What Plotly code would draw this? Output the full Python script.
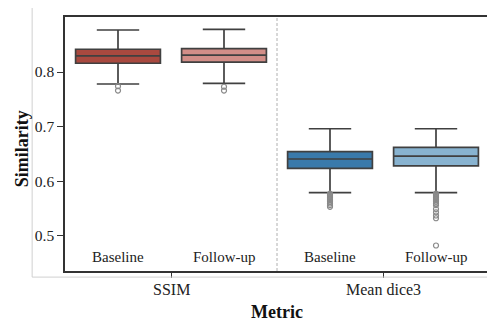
import plotly.graph_objects as go

metrics = ["SSIM", "Mean dice3"]
groups = ["Baseline", "Follow-up"]
colors = {("SSIM", "Baseline"): "#a9493f", ("SSIM", "Follow-up"): "#d28e88",
          ("Mean dice3", "Baseline"): "#3a7aab", ("Mean dice3", "Follow-up"): "#88b3d0"}

# box statistics: lower whisker, q1, median, q3, upper whisker
lower = {"SSIM": [0.778, 0.779], "Mean dice3": [0.579, 0.579]}
q1 = {"SSIM": [0.816, 0.818], "Mean dice3": [0.6235, 0.628]}
median = {"SSIM": [0.8294, 0.831], "Mean dice3": [0.6406, 0.646]}
q3 = {"SSIM": [0.8417, 0.843], "Mean dice3": [0.654, 0.662]}
upper = {"SSIM": [0.877, 0.878], "Mean dice3": [0.696, 0.696]}
outliers = {
    ("SSIM", "Baseline"): [0.774, 0.766],
    ("SSIM", "Follow-up"): [0.773, 0.766],
    ("Mean dice3", "Baseline"): [0.577, 0.575, 0.573, 0.571, 0.569, 0.567, 0.565, 0.562,
                                 0.559, 0.556, 0.553],
    ("Mean dice3", "Follow-up"): [0.577, 0.575, 0.573, 0.571, 0.569, 0.567, 0.565, 0.562,
                                  0.559, 0.556, 0.549, 0.543, 0.537, 0.532, 0.482],
}
label_y = 0.4615
y_ticks = [0.5, 0.6, 0.7, 0.8]

font = "Liberation Serif"
offsets = [-0.25, 0.25]
fig = go.Figure()
for mi, m in enumerate(metrics):
    for gi, g in enumerate(groups):
        xpos = mi + offsets[gi]
        fig.add_trace(go.Box(
            x=[xpos], q1=[q1[m][gi]], median=[median[m][gi]], q3=[q3[m][gi]],
            lowerfence=[lower[m][gi]], upperfence=[upper[m][gi]],
            width=0.4, whiskerwidth=0.5, fillcolor=colors[(m, g)],
            line=dict(color="#404040", width=1.7), boxpoints=False, showlegend=False,
            hoverinfo="skip"))
        ys = outliers[(m, g)]
        fig.add_trace(go.Scatter(
            x=[xpos] * len(ys), y=ys, mode="markers",
            marker=dict(symbol="circle-open", size=5, color="#8a8a8a", line=dict(width=1.2)),
            showlegend=False, hoverinfo="skip"))
        fig.add_annotation(x=xpos, y=label_y, text=g, showarrow=False,
                           xanchor="center", yanchor="middle",
                           font=dict(family=font, size=15, color="#222"),
                           xref="x", yref="y")
    # category tick label
    fig.add_annotation(x=mi, y=-0.0748, xref="x", yref="paper", text=m, showarrow=False,
                       xanchor="center", yanchor="middle",
                       font=dict(family=font, size=16, color="#222"))

# axis titles
fig.add_annotation(x=0.5, y=-0.160, xref="paper", yref="paper", text="<b>Metric</b>",
                   xanchor="center", yanchor="middle",
                   showarrow=False, font=dict(family=font, size=18, color="#111"))
fig.add_annotation(x=-0.101, y=0.48, xref="paper", yref="paper", text="<b>Similarity</b>",
                   xanchor="center", yanchor="middle",
                   textangle=-90, showarrow=False, font=dict(family=font, size=18, color="#111"))

# divider
fig.add_shape(type="line", x0=0.5, x1=0.5, y0=0, y1=1, xref="x", yref="y domain",
              line=dict(color="#b0b0b0", width=1, dash="3px,2px"))
# outer light spines
fig.add_shape(type="line", x0=-0.0775, x1=-0.0775, y0=-0.024, y1=1.04, xref="paper", yref="paper",
              line=dict(color="#d0d0d0", width=1))
fig.add_shape(type="line", x0=-0.0775, x1=1.01, y0=-0.024, y1=-0.024, xref="paper", yref="paper",
              line=dict(color="#d0d0d0", width=1))

# page body has an 8px default margin, so the figure is sized to fit inside it
fig.update_layout(
    width=487, height=313, margin=dict(l=57, r=4, t=9, b=50),
    plot_bgcolor="white", paper_bgcolor="white",
    font=dict(family=font, color="#222"),
    xaxis=dict(range=[-0.5, 1.5], tickvals=[0, 1], ticktext=["", ""], showgrid=False,
               zeroline=False, showline=True, mirror=True, linecolor="#333", linewidth=1.5,
               ticks="outside", ticklen=5, tickcolor="#333", tickfont=dict(size=16)),
    yaxis=dict(range=[0.4353, 0.9008], tickvals=y_ticks,
               ticktext=[f"{v:.1f}" for v in y_ticks], showgrid=False,
               zeroline=False, showline=True, mirror=True, linecolor="#333", linewidth=1.5,
               ticks="outside", ticklen=6, tickcolor="#333", tickfont=dict(size=15.5)),
)
fig.write_html("out.html")
